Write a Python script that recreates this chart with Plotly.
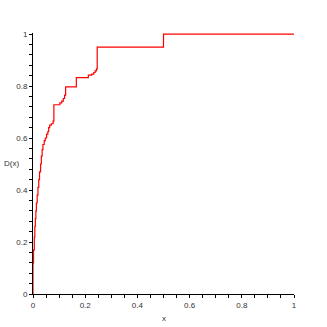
import plotly.graph_objects as go

# jump points of the step function D(x): x position and value after the jump
jump_x = [0, 0, 0.002, 0.005, 0.007, 0.009, 0.011, 0.013, 0.016, 0.019, 0.022,
          0.025, 0.029, 0.032, 0.035, 0.038, 0.043, 0.047, 0.052, 0.057, 0.060,
          0.064, 0.070, 0.077, 0.080, 0.103, 0.110, 0.116, 0.121, 0.125, 0.166,
          0.212, 0.225, 0.233, 0.238, 0.243, 0.246, 0.5, 1.0]
jump_y = [0, 0.12, 0.17, 0.22, 0.26, 0.29, 0.32, 0.35, 0.38, 0.41, 0.44,
          0.47, 0.50, 0.53, 0.555, 0.575, 0.59, 0.60, 0.615, 0.625, 0.64,
          0.65, 0.655, 0.665, 0.728, 0.735, 0.742, 0.752, 0.765, 0.797, 0.832,
          0.842, 0.846, 0.852, 0.858, 0.866, 0.950, 1.0, 1.0]

fig = go.Figure()
fig.add_trace(go.Scatter(
    x=jump_x, y=jump_y, mode='lines', line_shape='hv',
    line=dict(color='#ff0000', width=1.2), showlegend=False,
))

axis_common = dict(
    showline=True, linecolor='black', linewidth=1,
    ticks='outside', ticklen=3, tickcolor='black', showgrid=False,
    zeroline=False, tickfont=dict(family='Liberation Sans', size=8, color='#333'),
)
fig.update_xaxes(**axis_common, range=[0, 1], dtick=0.2,
                 minor=dict(dtick=0.05, ticks='outside', ticklen=3, tickcolor='black'))
fig.update_yaxes(**axis_common, range=[0, 1.004], dtick=0.2,
                 minor=dict(dtick=0.04, ticks='outside', ticklen=3, tickcolor='black'))

fig.add_annotation(text='D(x)', x=-0.084, y=0.5, xref='paper', yref='paper',
                   xanchor='center', yanchor='middle', showarrow=False,
                   font=dict(family='Liberation Sans', size=8, color='#333'))
fig.add_annotation(text='x', x=0.5, y=-0.092, xref='paper', yref='paper',
                   xanchor='center', yanchor='middle', showarrow=False,
                   font=dict(family='Liberation Sans', size=8, color='#333'))

fig.update_layout(
    width=327, height=327,
    margin=dict(l=33, r=33, t=33, b=33, autoexpand=False),
    paper_bgcolor='white', plot_bgcolor='white',
)

# drop the default 8px body margin so the figure fills the window
fig.write_html("out.html", config={'displayModeBar': False},
               post_script="document.body.style.margin='0';")
